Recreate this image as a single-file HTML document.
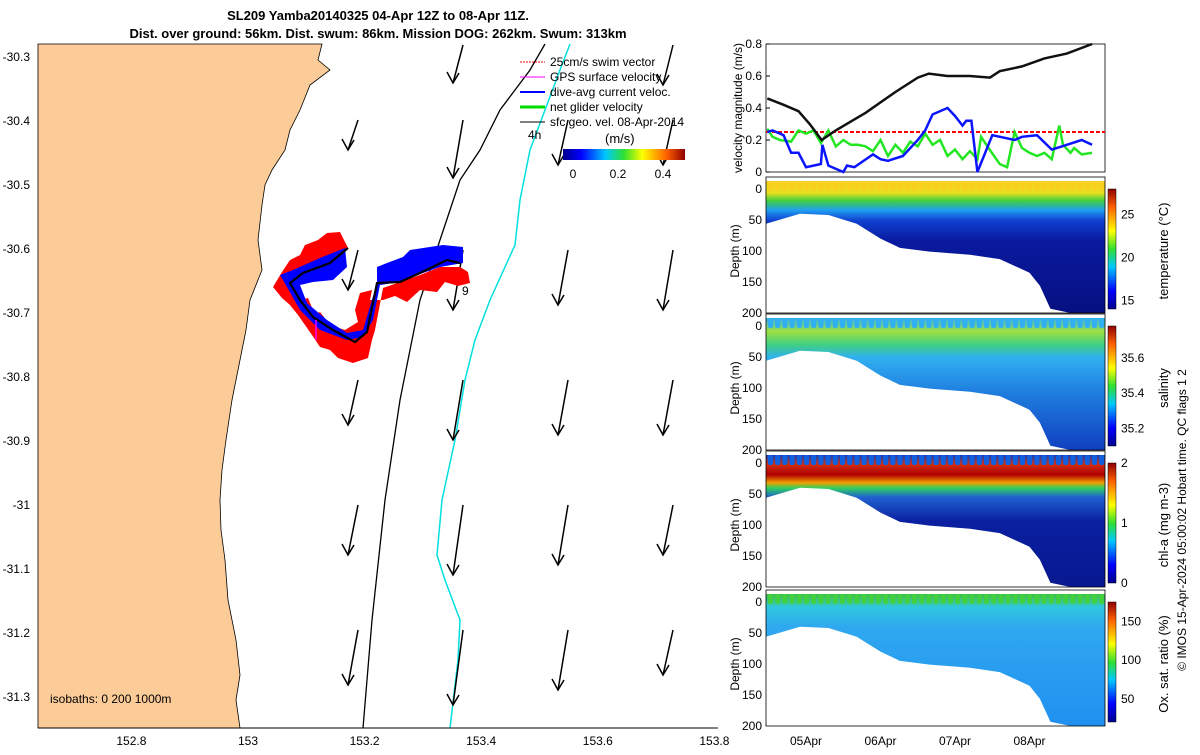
<!DOCTYPE html>
<html><head><meta charset="utf-8"><style>
body{margin:0;background:#fff;width:1200px;height:750px;overflow:hidden;font-family:"Liberation Sans",sans-serif}
svg text{font-family:"Liberation Sans",sans-serif}
</style></head><body>
<svg id="fig" width="1200" height="750" xmlns="http://www.w3.org/2000/svg">
<defs>
<linearGradient id="jetH" x1="0" x2="1" y1="0" y2="0">
<stop offset="0" stop-color="#00008f"/><stop offset="0.15" stop-color="#0000ff"/><stop offset="0.35" stop-color="#00c8ff"/><stop offset="0.5" stop-color="#30e030"/><stop offset="0.65" stop-color="#ffff00"/><stop offset="0.85" stop-color="#ff6000"/><stop offset="1" stop-color="#8f0000"/></linearGradient>
<linearGradient id="jetV" x1="0" x2="0" y1="1" y2="0">
<stop offset="0" stop-color="#00008f"/><stop offset="0.15" stop-color="#0000ff"/><stop offset="0.35" stop-color="#00c8ff"/><stop offset="0.5" stop-color="#30e030"/><stop offset="0.65" stop-color="#ffff00"/><stop offset="0.85" stop-color="#ff6000"/><stop offset="1" stop-color="#8f0000"/></linearGradient>
<linearGradient id="gT" x1="0" x2="0" y1="0" y2="1"><stop offset="0" stop-color="#f8d020"/><stop offset="0.09" stop-color="#e8e020"/><stop offset="0.15" stop-color="#40d040"/><stop offset="0.22" stop-color="#20a0f0"/><stop offset="0.3" stop-color="#1040d0"/><stop offset="0.45" stop-color="#0a1aa0"/><stop offset="1" stop-color="#061080"/></linearGradient>
<linearGradient id="gS" x1="0" x2="0" y1="0" y2="1"><stop offset="0" stop-color="#30b0f0"/><stop offset="0.1" stop-color="#a0e040"/><stop offset="0.2" stop-color="#40d080"/><stop offset="0.3" stop-color="#30b0f0"/><stop offset="0.55" stop-color="#2080e0"/><stop offset="1" stop-color="#1040c0"/></linearGradient>
<linearGradient id="gC" x1="0" x2="0" y1="0" y2="1"><stop offset="0" stop-color="#0a40c0"/><stop offset="0.07" stop-color="#d03010"/><stop offset="0.15" stop-color="#b00000"/><stop offset="0.21" stop-color="#f0a000"/><stop offset="0.25" stop-color="#30d060"/><stop offset="0.32" stop-color="#2060d0"/><stop offset="0.5" stop-color="#0a20a0"/><stop offset="1" stop-color="#081890"/></linearGradient>
<linearGradient id="gO" x1="0" x2="0" y1="0" y2="1"><stop offset="0" stop-color="#40c040"/><stop offset="0.1" stop-color="#30c8e0"/><stop offset="0.25" stop-color="#30a8f0"/><stop offset="1" stop-color="#2090f0"/></linearGradient>
</defs>

<text x="378" y="20" text-anchor="middle" font-size="13" font-weight="bold">SL209 Yamba20140325 04-Apr 12Z to 08-Apr 11Z.</text>
<text x="378" y="38" text-anchor="middle" font-size="13" font-weight="bold">Dist. over ground: 56km. Dist. swum: 86km. Mission DOG: 262km. Swum: 313km</text>

<g id="map">
<rect x="38" y="44" width="680" height="684" fill="#fff"/>
<path d="M38,44 L322,44 L318,60 L330,70 L310,85 L300,110 L290,130 L285,150 L272,170 L265,185 L262,205 L258,240 L262,270 L250,300 L246,330 L240,360 L232,400 L226,440 L222,470 L220,500 L221,530 L225,560 L228,600 L236,640 L240,675 L236,700 L240,728 L38,728 Z" fill="#fbcb98" stroke="#000" stroke-width="0.8"/>
<polyline points="363,728 372,620 385,500 400,400 420,300 440,240 460,180 480,150 500,110 530,70 545,44" fill="none" stroke="#000" stroke-width="1.3"/>
<polyline points="450,728 458,660 460,620 445,580 437,555 442,500 455,440 465,380 475,340 490,300 515,245 520,200 530,150 545,110 560,70 570,44" fill="none" stroke="#00e0e0" stroke-width="1.5"/>
<g id="arrows"></g>
<g>
<path d="M273,287 L282,272 L290,260 L300,255 L305,245 L318,240 L327,233 L340,232 L348,248 L340,258 L325,265 L310,272 L298,282 L300,300 L308,298 L315,315 L320,312 L330,325 L345,330 L358,322 L355,310 L360,293 L372,290 L370,300 L383,300 L395,296 L407,302 L420,290 L437,292 L445,282 L458,286 L470,283 L468,272 L460,267 L440,267 L420,275 L400,282 L383,288 L375,330 L372,340 L368,358 L353,363 L338,358 L330,350 L320,347 L312,335 L305,325 L298,315 L290,305 L282,298 Z" fill="#ff0000"/>
<path d="M280,275 L293,270 L320,258 L345,248 L347,267 L333,280 L313,282 L300,285 L307,303 L327,320 L347,333 L363,330 L377,283 L377,267 L387,263 L403,257 L410,250 L443,245 L463,247 L463,263 L440,267 L423,273 L400,282 L380,285 L373,320 L363,337 L347,340 L320,330 L300,310 L287,287 Z" fill="#0000ff"/>
<polyline points="348,248 330,263 303,273 290,283 300,300 313,317 333,330 355,342 367,332 377,283 400,282 420,273 447,260 460,263" fill="none" stroke="#000" stroke-width="2.2"/>
<polyline points="316,320 316,340" stroke="#ff00ff" stroke-width="1.5"/>
<text x="462" y="295" font-size="12">9</text>
</g>
<g font-size="12">
<line x1="520" y1="62" x2="545" y2="62" stroke="#f00" stroke-dasharray="2,1"/><text x="550" y="66">25cm/s swim vector</text>
<line x1="520" y1="77" x2="545" y2="77" stroke="#f0f"/><text x="550" y="81">GPS surface velocity</text>
<line x1="520" y1="92" x2="545" y2="92" stroke="#00f" stroke-width="2"/><text x="550" y="96">dive-avg current veloc.</text>
<line x1="520" y1="107" x2="545" y2="107" stroke="#0d0" stroke-width="3"/><text x="550" y="111">net glider velocity</text>
<line x1="520" y1="122" x2="545" y2="122" stroke="#000"/><text x="550" y="126">sfc geo. vel. 08-Apr-2014</text>
<text x="528" y="139">4h</text>
<text x="605" y="143" font-size="13">(m/s)</text>
<rect x="563" y="149" width="122" height="11" fill="url(#jetH)"/>
<text x="573" y="178" text-anchor="middle" font-size="12">0</text><text x="618" y="178" text-anchor="middle" font-size="12">0.2</text><text x="663" y="178" text-anchor="middle" font-size="12">0.4</text>
</g>
<text x="50" y="703" font-size="12">isobaths: 0   200  1000m</text>
<line x1="38" y1="728" x2="718" y2="728" stroke="#000"/>
<g id="mapticks" font-size="12"></g>
</g>

<g id="vel"></g>
<g id="panels"></g>
<text transform="translate(1186,520) rotate(-90)" text-anchor="middle" font-size="12">© IMOS 15-Apr-2024 05:00:02 Hobart time. QC flags 1  2</text>
</svg>
<script>
const NS="http://www.w3.org/2000/svg";
function mk(p,t,a){const e=document.createElementNS(NS,t);for(const k in a)e.setAttribute(k,a[k]);p.appendChild(e);return e;}
const lonTicks=[152.8,153,153.2,153.4,153.6,153.8];
const latTicks=[-30.3,-30.4,-30.5,-30.6,-30.7,-30.8,-30.9,-31,-31.1,-31.2,-31.3];
const lonX=v=>248+(v-153)*583;
const latY=v=>57+(-30.3-v)*640;
const mt=document.getElementById('mapticks');
lonTicks.forEach(v=>{const t=mk(mt,'text',{x:lonX(v),y:745,'text-anchor':'middle'});t.textContent=String(v);

});
latTicks.forEach(v=>{const t=mk(mt,'text',{x:30,y:latY(v)+4,'text-anchor':'end'});t.textContent=String(v);

});
const arrowCols=[350,455,560,665];
const arrowRows=[45,120,250,380,505,630];
const arrowLen=[[0,38,0,40],[30,58,45,45],[40,60,55,60],[45,60,55,55],[50,70,60,50],[55,75,60,45]];
const ag=document.getElementById('arrows');
arrowRows.forEach((r,i)=>arrowCols.forEach((c,j)=>{const L=arrowLen[i][j];if(!L)return;
const x1=c+8,y1=r,x2=c-2,y2=r+L;
mk(ag,'line',{x1,y1,x2,y2,stroke:'#000','stroke-width':1.5});
mk(ag,'polyline',{points:`${x2-6},${y2-11} ${x2},${y2} ${x2+6},${y2-10}`,fill:'none',stroke:'#000','stroke-width':1.5});}));
const dayX=d=>806+d*74.5;
const velY=v=>172-v*160;
const blackT=[-0.52,-0.3,-0.1,0.05,0.21,0.4,0.8,1.2,1.5,1.65,1.9,2.2,2.47,2.6,2.9,3.2,3.5,3.84];
const blackV=[0.46,0.42,0.38,0.3,0.2,0.26,0.37,0.5,0.59,0.615,0.6,0.6,0.59,0.63,0.66,0.71,0.74,0.8];
const blueT=[-0.52,-0.45,-0.3,-0.2,-0.1,0,0.1,0.2,0.22,0.3,0.5,0.55,0.65,0.9,1.0,1.1,1.3,1.5,1.6,1.7,1.9,2.0,2.1,2.15,2.22,2.3,2.5,2.8,2.9,3.1,3.3,3.5,3.7,3.84];
const blueV=[0.25,0.26,0.23,0.12,0.12,0.03,0.04,0.05,0.17,0.04,0.0,0.04,0.03,0.11,0.08,0.07,0.1,0.2,0.26,0.36,0.4,0.35,0.29,0.32,0.32,0.0,0.23,0.2,0.22,0.23,0.14,0.17,0.2,0.17];
const greenT=[-0.52,-0.45,-0.35,-0.2,-0.1,0,0.1,0.2,0.3,0.4,0.5,0.6,0.7,0.8,0.9,1.0,1.1,1.2,1.3,1.4,1.5,1.6,1.7,1.8,1.9,2.0,2.1,2.2,2.3,2.35,2.45,2.6,2.7,2.8,2.9,3.0,3.1,3.2,3.3,3.4,3.45,3.55,3.6,3.7,3.84];
const greenV=[0.27,0.22,0.2,0.19,0.26,0.24,0.26,0.18,0.26,0.16,0.2,0.17,0.17,0.16,0.13,0.2,0.1,0.17,0.12,0.19,0.16,0.24,0.17,0.2,0.1,0.14,0.08,0.13,0.08,0.22,0.15,0.05,0.03,0.25,0.15,0.12,0.1,0.12,0.08,0.29,0.17,0.12,0.15,0.11,0.12];
const vg=document.getElementById('vel');
mk(vg,'rect',{x:766,y:44,width:339,height:128,fill:'#fff',stroke:'#000','stroke-width':0.8});
[0,0.2,0.4,0.6,0.8].forEach(v=>{const t=mk(vg,'text',{x:762,y:velY(v)+4,'text-anchor':'end','font-size':12});t.textContent=String(v);


mk(vg,'line',{x1:766,x2:770,y1:velY(v),y2:velY(v),stroke:'#000'});});
const vl=mk(vg,'text',{transform:'translate(742,108) rotate(-90)','text-anchor':'middle','font-size':12});vl.textContent='velocity magnitude (m/s)';


mk(vg,'line',{x1:766,x2:1105,y1:velY(0.25),y2:velY(0.25),stroke:'#f00','stroke-width':2,'stroke-dasharray':'4,2'});
function series(T,V,c,w,name){const p=mk(vg,'polyline',{points:T.map((t,i)=>dayX(t).toFixed(1)+','+velY(V[i]).toFixed(1)).join(' '),fill:'none',stroke:c,'stroke-width':w});

}
series(greenT,greenV,'#22e622',2.5,'net-glider-velocity-line');
series(blueT,blueV,'#0a14ff',2.5,'dive-avg-current-line');
series(blackT,blackV,'#111',2.5,'geostrophic-velocity-line');
const bathT=[-0.55,-0.08,0.3,0.68,1.0,1.26,1.66,2.2,2.6,3.0,3.14,3.28,3.55];
const bathD=[56,40,42,56,80,95,101,106,113,135,156,193,200];
const panelY0=[189,326,463,602];
const panelFill=['url(#gT)','url(#gS)','url(#gC)','url(#gO)'];
const panelLabel=['temperature (°C)','salinity','chl-a (mg m-3)','Ox. sat. ratio (%)'];
const cbTicks=[[15,20,25],[35.2,35.4,35.6],[0,1,2],[50,100,150]];
const cbRange=[[14,28],[35.1,35.78],[0,2],[20,175]];
const dotColors=['#f8d020','#30b0f0','#1060e0','#40d040'];
const pg=document.getElementById('panels');
const depthTicks=[0,50,100,150,200];
panelY0.forEach((y0,k)=>{
 const dY=d=>y0+d*0.62;
 const top=y0-8,bot=dY(200);
 const g=mk(pg,'g',{});
 
 
 let pts=`766,${top} 1105,${top} 1105,${bot} `;
 for(let i=bathT.length-1;i>=0;i--)pts+=`${Math.min(1105,Math.max(766,dayX(bathT[i]))).toFixed(1)},${dY(bathD[i]).toFixed(1)} `;
 const poly=mk(g,'polygon',{points:pts,fill:panelFill[k]});
 
 
 for(let x=768;x<1104;x+=7.2)mk(g,'rect',{x:x,y:top,width:5,height:10,rx:2,fill:dotColors[k]});
 mk(g,'rect',{x:766,y:top-4,width:339,height:bot-top+4,fill:'none',stroke:'#000','stroke-width':0.8});
 depthTicks.forEach(d=>{const t=mk(g,'text',{x:762,y:dY(d)+4,'text-anchor':'end','font-size':12});t.textContent=String(d);
 
 });
 const yl=mk(g,'text',{transform:`translate(739,${dY(100)}) rotate(-90)`,'text-anchor':'middle','font-size':12});yl.textContent='Depth (m)';
 
 
 const cb=mk(g,'rect',{x:1108,y:dY(0),width:8,height:dY(200)-dY(0)-4,fill:'url(#jetV)',stroke:'#000','stroke-width':0.5});
 
 
 const [lo,hi]=cbRange[k];const cbY=v=>dY(0)+(1-(v-lo)/(hi-lo))*(dY(200)-dY(0)-4);
 cbTicks[k].forEach(v=>{const t=mk(g,'text',{x:1121,y:cbY(v)+4,'font-size':12});t.textContent=String(v);
 
 });
 const cl=mk(g,'text',{transform:`translate(1168,${dY(100)}) rotate(-90)`,'text-anchor':'middle','font-size':13});cl.textContent=panelLabel[k];
 
 
});
const dayTicks=[0,1,2,3];const dayLabels=['05Apr','06Apr','07Apr','08Apr'];
dayTicks.forEach((d,i)=>{const t=mk(pg,'text',{x:dayX(d),y:745,'text-anchor':'middle','font-size':12});t.textContent=dayLabels[i];

});
</script>
</body></html>
